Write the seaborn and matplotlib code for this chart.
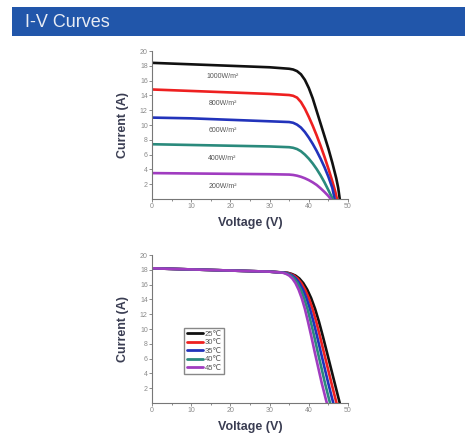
import matplotlib
matplotlib.use('Agg')
from matplotlib import pyplot as plt
from matplotlib.ticker import MultipleLocator
import seaborn as sns
import pandas as pd

# irradiance curves (top panel), voltage in V, current in A
irr_labels = ['1000W/m²', '800W/m²', '600W/m²', '400W/m²', '200W/m²']
irr_label_pos = [16.6, 12.9, 9.2, 5.5, 1.7]
irr_colors = ['#111111', '#ee2020', '#2233bb', '#2a8a7c', '#a03cc0']

v_1000 = [0, 10, 20, 30, 35, 36, 37, 38, 39, 40, 41, 42, 43, 44, 45, 46, 47, 47.5, 47.9]
i_1000 = [18.4, 18.2, 18.0, 17.8, 17.6, 17.5, 17.28, 16.85, 16.1, 15.0, 13.6, 11.9, 10.2, 8.5,
          6.8, 4.9, 2.8, 1.5, 0]
v_800 = [0, 10, 20, 30, 35, 36, 37, 38, 39, 40, 41, 42, 43, 44, 45, 46, 46.7, 47.2]
i_800 = [14.8, 14.6, 14.4, 14.2, 14.05, 13.95, 13.7, 13.1, 12.2, 11.1, 9.9, 8.6, 7.2, 5.7,
         4.1, 2.4, 1.1, 0]
v_600 = [0, 10, 20, 30, 35, 36, 37, 38, 39, 40, 41, 42, 43, 44, 45, 46, 46.6]
i_600 = [11.0, 10.9, 10.7, 10.5, 10.4, 10.3, 10.05, 9.65, 9.05, 8.3, 7.45, 6.5, 5.45, 4.3,
         3.0, 1.5, 0]
v_400 = [0, 10, 20, 30, 35, 36, 37, 38, 39, 40, 41, 42, 43, 44, 45, 46.1]
i_400 = [7.4, 7.3, 7.2, 7.1, 7.0, 6.92, 6.75, 6.45, 6.0, 5.45, 4.8, 4.05, 3.2, 2.25, 1.2, 0]
v_200 = [0, 10, 20, 30, 35, 36, 37, 38, 39, 40, 41, 42, 43, 44, 45, 45.6]
i_200 = [3.5, 3.45, 3.4, 3.35, 3.3, 3.25, 3.15, 3.0, 2.8, 2.55, 2.25, 1.9, 1.45, 0.95, 0.4, 0]

# temperature curves (bottom panel), shared current points
temp_labels = ['25℃', '30℃', '35℃', '40℃', '45℃']
temp_colors = ['#111111', '#ee2020', '#2233bb', '#2a8a7c', '#a03cc0']
i_temp = [18.2, 18.05, 17.9, 17.75, 17.6, 17.45, 17.22, 16.82, 16.2, 15.32, 14.17, 12.72,
          10.97, 8.99, 6.9, 4.8, 2.7, 0.6, 0]
v_25 = [0, 10, 20, 30, 34.6, 35.6, 36.6, 37.6, 38.6, 39.6, 40.6, 41.6, 42.6, 43.6, 44.6,
        45.6, 46.6, 47.6, 47.9]
v_30 = [0, 10, 20, 30, 34.3, 35.25, 36.2, 37.15, 38.1, 39.05, 40.0, 40.95, 41.9, 42.86, 43.82,
        44.8, 45.77, 46.77, 47.07]
v_35 = [0, 10, 20, 30, 34.0, 34.9, 35.8, 36.7, 37.6, 38.5, 39.4, 40.3, 41.2, 42.12, 43.05,
        44.0, 44.95, 45.95, 46.25]
v_40 = [0, 10, 20, 30, 33.7, 34.55, 35.4, 36.25, 37.1, 37.95, 38.8, 39.65, 40.5, 41.39, 42.27,
        43.2, 44.12, 45.12, 45.42]
v_45 = [0, 10, 20, 30, 33.4, 34.2, 35.0, 35.8, 36.6, 37.4, 38.2, 39.0, 39.8, 40.65, 41.5,
        42.4, 43.3, 44.3, 44.6]

sns.set_theme(style='white')
plt.rcParams['font.family'] = ['Liberation Sans', 'DejaVu Sans']

TICK_COLOR = '#8a8a8a'
LABEL_COLOR = '#3a3d52'


def style_axes(ax):
    sns.despine(ax=ax)
    for side in ['left', 'bottom']:
        ax.spines[side].set_color('#777777')
        ax.spines[side].set_linewidth(0.8)
    ax.set_xlim(0, 50)
    ax.set_ylim(0, 20)
    ax.xaxis.set_major_locator(MultipleLocator(10))
    ax.xaxis.set_minor_locator(MultipleLocator(5))
    ax.set_yticks(range(2, 21, 2))
    ax.tick_params(axis='both', which='both', direction='out', length=2, width=0.6,
                   color='#777777', labelsize=5, labelcolor=TICK_COLOR, pad=1,
                   bottom=True, left=True)
    ax.tick_params(axis='x', which='minor', length=1.5)
    ax.set_xlabel('Voltage (V)', fontsize=9, fontweight='bold', color=LABEL_COLOR, labelpad=5)
    ax.set_ylabel('Current (A)', fontsize=9, fontweight='bold', color=LABEL_COLOR, labelpad=8)


fig = plt.figure(figsize=(4.65, 4.37), dpi=100)
fig.patch.set_facecolor('white')

# header banner
banner = fig.add_axes([12 / 465, 1 - 36 / 437, 1 - 12 / 465, 29 / 437])
banner.set_facecolor('#2156aa')
banner.set_xticks([])
banner.set_yticks([])
for s in banner.spines.values():
    s.set_visible(False)
banner.text(13 / 453, 0.48, 'I-V Curves', color='#e8ecf4', fontsize=13,
            va='center', ha='left', transform=banner.transAxes)

# top: irradiance
ax1 = fig.add_axes([152 / 465, 1 - 199 / 437, 196 / 465, 148 / 437])
irr_data = [(v_1000, i_1000), (v_800, i_800), (v_600, i_600), (v_400, i_400), (v_200, i_200)]
for (v, i), lab, col, ypos in zip(irr_data, irr_labels, irr_colors, irr_label_pos):
    df = pd.DataFrame({'V': v, 'I': i})
    sns.lineplot(data=df, x='V', y='I', ax=ax1, color=col, linewidth=1.9, sort=False)
    ax1.text(18, ypos, lab, fontsize=5, color='#555555', ha='center', va='center')
style_axes(ax1)

# bottom: temperature
ax2 = fig.add_axes([152 / 465, 1 - 403 / 437, 196 / 465, 148 / 437])
temp_v = [v_25, v_30, v_35, v_40, v_45]
for v, lab, col in zip(temp_v, temp_labels, temp_colors):
    df = pd.DataFrame({'V': v, 'I': i_temp})
    sns.lineplot(data=df, x='V', y='I', ax=ax2, color=col, linewidth=1.9, sort=False, label=lab)
style_axes(ax2)
leg = ax2.legend(loc='lower left', bbox_to_anchor=(0.145, 0.17), fontsize=5.5,
                 handlelength=2.2, handletextpad=0.2, labelspacing=0.15,
                 borderpad=0.3, fancybox=False, framealpha=1, edgecolor='#888888')
for t in leg.get_texts():
    t.set_color('#555555')
for line in leg.get_lines():
    line.set_linewidth(2)

fig.savefig('out.png', dpi=100)
